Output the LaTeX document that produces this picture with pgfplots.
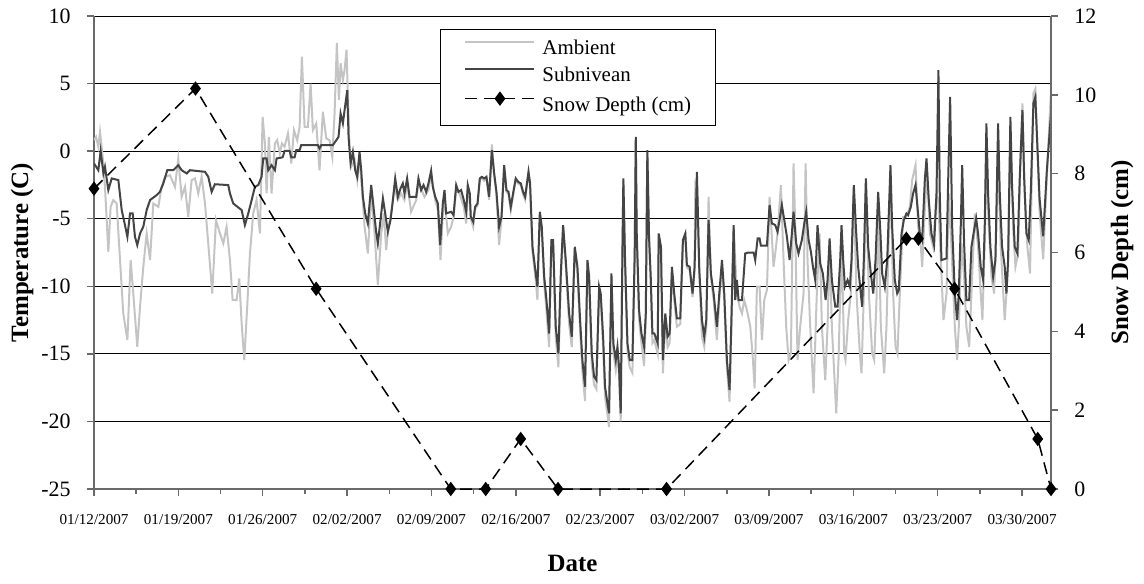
\documentclass[border=0pt]{standalone}
\usepackage{fontspec}
\setmainfont{Liberation Serif}
\usepackage{pgfplots}
\pgfplotsset{compat=1.18}
\definecolor{amb}{HTML}{C4C4C4}
\definecolor{sub}{HTML}{444444}
\definecolor{axgray}{HTML}{6A6A6A}
\pgfplotsset{
  common/.style={
    scale only axis, width=478.5bp, height=236.5bp,
    xmin=0, xmax=79.4,
    /pgf/number format/assume math mode=true,
    axis line style={axgray, line width=1bp},
    tick style={axgray, line width=0.75bp},
    major tick length=3.5bp, minor tick length=2.5bp,
    tick align=outside,
    yticklabel style={font=\fontsize{11}{12}\selectfont, inner sep=0pt},
    label style={font=\fontsize{12.5}{14}\selectfont\bfseries},
  }
}
\begin{document}
\begin{tikzpicture}
\begin{axis}[common,
  ymin=-25, ymax=10,
  axis x line*=bottom, axis y line*=left,
  ytick={-25,-20,...,10},
  ymajorgrids, major grid style={black, line width=0.5bp},
  xtick={0,7,...,77},
  xticklabels={01/12/2007,01/19/2007,01/26/2007,02/02/2007,02/09/2007,02/16/2007,02/23/2007,03/02/2007,03/09/2007,03/16/2007,03/23/2007,03/30/2007},
  minor xtick={3.5,10.5,...,77},
  xticklabel style={font=\fontsize{7.6}{8}\selectfont, anchor=north, inner sep=0pt, yshift=-9bp},
  yticklabel style={anchor=east, xshift=-8bp},
  xlabel={Date}, ylabel={Temperature (C)},
  xlabel style={at={(axis description cs:0.5,-0.1564)}, anchor=center},
  ylabel style={at={(axis description cs:-0.0752,0.5)}, anchor=center},
]
\addplot[amb, line width=1bp] coordinates {
(0.00,0.81) (0.17,1.06) (0.36,0.32) (0.50,1.43) (0.72,-0.42) (0.91,-2.64) (1.19,-7.45) (1.38,-4.12) (1.60,-3.62) (1.88,-3.87)
(2.16,-8.06) (2.43,-12.01) (2.77,-13.98) (3.04,-8.06) (3.26,-10.53) (3.59,-14.47) (3.82,-11.51) (4.09,-8.56) (4.37,-6.09) (4.65,-8.06)
(4.92,-3.87) (5.34,-4.12) (5.61,-2.64) (5.89,-1.90) (6.30,-1.78) (6.72,-2.64) (6.99,-0.54) (7.27,-3.38) (7.55,-2.64) (7.82,-4.86)
(8.10,-2.14) (8.38,-2.02) (8.65,-3.13) (8.93,-1.90) (9.21,-3.87) (9.48,-6.83) (9.81,-10.53) (10.12,-5.10) (10.45,-6.09) (10.73,-6.83)
(11.00,-5.60) (11.28,-8.06) (11.50,-11.02) (11.83,-11.02) (12.05,-9.42) (12.25,-12.75) (12.47,-15.46) (12.71,-11.51) (12.94,-7.57) (13.21,-4.61)
(13.49,-3.62) (13.77,-6.09) (13.99,2.54) (14.18,0.57) (14.32,-3.13) (14.51,1.06) (14.73,-3.13) (15.01,0.57) (15.20,0.81) (15.42,-0.17)
(15.59,0.57) (15.81,0.32) (16.09,1.31) (16.37,-0.91) (16.59,1.55) (16.86,0.81) (17.06,1.80) (17.25,7.0) (17.47,1.80) (17.75,1.80)
(17.97,5.0) (18.16,1.55) (18.44,2.05) (18.71,-1.41) (18.99,2.91) (19.27,0.94) (19.54,0.81) (19.77,-0.42) (19.96,2.79) (20.15,8.0)
(20.32,3.77) (20.46,6.5) (20.65,5.25) (20.79,6.0) (20.95,7.5) (21.06,4.27) (21.20,0.32) (21.34,-1.16) (21.62,-0.67) (21.84,-2.14)
(22.03,-0.42) (22.22,-2.64) (22.45,-5.60) (22.72,-7.57) (23.00,-3.13) (23.28,-6.09) (23.55,-9.91) (23.83,-6.09) (24.05,-4.61) (24.24,-7.32)
(24.44,-5.60) (24.66,-4.61) (24.93,-2.64) (25.21,-3.62) (25.48,-3.13) (25.76,-3.62) (25.98,-2.39) (26.31,-4.49) (26.73,-3.62) (26.92,-2.39)
(27.42,-3.38) (27.75,-2.88) (27.97,-1.65) (28.31,-3.62) (28.53,-4.36) (28.75,-8.06) (28.94,-4.61) (29.08,-3.62) (29.36,-6.09) (29.63,-5.60)
(29.83,-4.86) (30.05,-2.88) (30.32,-3.13) (30.68,-4.12) (30.88,-5.35) (31.01,-2.88) (31.18,-3.62)
(31.26,-5.0) (31.46,-5.6) (31.62,-4.3) (31.82,-4.0) (32.01,-2.1) (32.18,-2.0) (32.37,-2.2) (32.56,-2.0) (32.78,-3.6) (33.01,0.5)
(33.20,-1.7) (33.39,-3.2) (33.61,-6.95) (33.81,-5.0) (34.03,-1.2) (34.22,-3.0) (34.39,-3.2) (34.58,-4.4) (34.77,-3.3) (34.99,-2.1)
(35.19,-2.4) (35.41,-2.5) (35.60,-3.2) (35.77,-3.6) (36.05,-1.6) (36.18,-2.5) (36.38,-7.4) (36.65,-9.6) (36.79,-11.0) (36.99,-4.6)
(37.15,-5.9) (37.35,-9.8) (37.54,-11.8) (37.76,-14.5) (37.95,-6.8) (38.09,-6.9) (38.31,-13.8) (38.53,-16.0) (38.73,-9.6) (38.92,-5.6)
(39.14,-8.5) (39.42,-12.8) (39.64,-14.5) (39.89,-7.3) (40.11,-9.0) (40.33,-13.3) (40.52,-16.3) (40.74,-18.5) (40.94,-8.3) (41.08,-9.8)
(41.30,-15.8) (41.49,-17.3) (41.68,-17.6) (41.91,-10.4) (42.04,-11.0) (42.24,-14.5) (42.40,-18.2) (42.60,-19.5) (42.73,-20.4) (42.93,-9.3)
(43.09,-14.9) (43.29,-16.2) (43.43,-15.0) (43.56,-16.6) (43.70,-20.0) (43.84,-7.8) (43.92,-2.2) (44.06,-8.4) (44.26,-14.8) (44.45,-16.0)
(44.67,-16.4) (44.86,-7.8) (44.95,0.9) (45.03,-6.4) (45.22,-12.4) (45.42,-14.2) (45.64,-15.9) (45.78,-12.5) (45.91,-0.1) (46.05,-6.6)
(46.19,-9.8) (46.33,-14.2) (46.49,-14.0) (46.77,-15.0)
(46.85,-7.08) (47.04,-7.5) (47.20,-16.44) (47.40,-12.5) (47.59,-14.5) (47.76,-14.2) (47.95,-9.05) (48.14,-11.0) (48.36,-12.99) (48.64,-12.8)
(48.86,-6.8) (49.06,-6.3) (49.19,-8.6) (49.42,-8.8) (49.66,-10.8) (49.83,-8.8) (49.89,-2.39) (50.02,-2.64) (50.22,-9.0) (50.44,-13.73)
(50.63,-14.47) (50.80,-13.0) (50.99,-3.38) (51.18,-9.3) (51.41,-11.0) (51.68,-13.98) (51.88,-11.0) (52.10,-8.5) (52.29,-11.0) (52.51,-16.0)
(52.73,-18.54) (52.87,-13.5) (53.07,-5.60) (53.34,-10.53) (53.56,-11.51) (53.76,-12.01) (53.95,-11.02) (54.17,-11.76) (54.45,-12.99) (54.67,-15.46)
(54.81,-17.55) (55.00,-10.03) (55.22,-10.03) (55.42,-13.98) (55.61,-11.02) (55.83,-10.28) (56.05,-3.38) (56.24,-6.34) (56.38,-8.56) (56.52,-7.57)
(56.71,-6.09) (56.99,-2.51) (57.21,-8.06) (57.43,-12.99) (57.63,-15.46) (57.82,-14.97) (58.04,-0.91) (58.18,-5.60) (58.37,-15.46) (58.59,-12.99)
(58.87,-10.53) (59.04,-0.91) (59.20,-8.06) (59.42,-12.99) (59.70,-17.92) (59.97,-10.53) (60.20,-6.09) (60.39,-12.99) (60.67,-16.94) (60.86,-12.99)
(61.03,-7.08) (61.22,-12.99) (61.58,-19.40) (61.77,-15.46) (61.96,-9.05)
(62.02,-6.58) (62.24,-14.97) (62.35,-15.46) (62.57,-12.50) (62.79,-10.53) (63.04,-2.88) (63.26,-10.53) (63.54,-14.97) (63.68,-16.44) (63.87,-10.53)
(64.04,-2.39) (64.29,-10.53) (64.56,-14.97) (64.73,-15.46) (64.92,-11.02) (65.06,-3.62) (65.28,-12.99) (65.56,-16.44) (65.75,-12.99) (66.08,-1.41)
(66.30,-10.53) (66.50,-14.47) (66.66,-14.97) (66.86,-10.53) (67.13,-4.86) (67.41,-4.86) (67.69,-4.12) (67.88,-2.14) (68.16,-1.04) (68.38,-5.60)
(68.60,-7.08) (68.71,-8.56) (68.93,-4.36) (69.12,-1.41) (69.35,-6.09) (69.62,-7.08) (69.90,-3.13) (70.04,-3.62) (70.26,-8.06) (70.48,-12.50)
(70.73,-10.53) (70.92,-3.13) (71.14,-7.08) (71.42,-12.99) (71.61,-15.46) (71.75,-12.99) (71.97,-6.83) (72.19,-9.29) (72.38,-12.99) (72.61,-14.47)
(72.80,-10.53) (73.08,-4.61) (73.35,-7.08) (73.57,-10.53) (73.71,-12.50) (73.90,-6.83) (74.04,-0.67) (74.24,-5.60) (74.46,-9.29) (74.68,-10.53)
(74.87,-5.60) (75.01,-0.42) (75.23,-7.08) (75.56,-12.50) (75.84,-8.56) (76.03,1.80) (76.25,-5.60) (76.45,-8.56) (76.67,-7.57) (76.86,-0.67)
(77.03,3.53) (77.22,-3.13) (77.44,-7.08) (77.66,-9.05) (77.83,-0.67) (77.94,4.27) (78.10,4.6) (78.45,-4.5) (78.75,-8.0) (79.05,-2.0) (79.40,4.5)
};
\addplot[sub, line width=1bp] coordinates {
(0.00,-0.91) (0.36,-1.41) (0.55,0.02) (0.78,-1.65) (0.91,-1.16) (1.19,-2.88) (1.47,-2.02) (2.02,-2.14) (2.30,-4.36) (2.57,-5.47)
(2.77,-6.34) (2.99,-4.61) (3.21,-4.61) (3.40,-6.34) (3.59,-6.95) (3.82,-6.09) (4.09,-5.60) (4.37,-4.36) (4.65,-3.62) (5.20,-3.25)
(5.47,-3.01) (5.75,-2.39) (6.08,-1.41) (6.58,-1.41) (6.99,-1.04) (7.27,-1.41) (7.69,-1.65) (7.96,-1.41) (9.21,-1.53) (9.48,-1.90)
(9.76,-3.01) (10.03,-2.45) (11.14,-2.51) (11.28,-3.13) (11.55,-3.87) (12.25,-4.36) (12.52,-5.47) (12.80,-4.61) (13.08,-3.62) (13.35,-2.64)
(13.63,-2.51) (13.90,-1.90) (14.04,-0.54) (14.32,-0.54) (14.46,-1.41) (14.73,-1.04) (15.01,-1.41) (15.15,-0.54) (15.59,-0.47)
(15.67,-0.42) (15.81,0.02) (16.23,0.02) (16.37,-0.47) (16.64,-0.47) (16.78,0.07) (17.06,0.07) (17.19,0.44) (18.58,0.44) (18.71,0.20)
(18.85,0.44) (19.82,0.44) (20.10,0.81) (20.29,1.06) (20.46,2.79) (20.65,2.05) (20.79,3.03) (21.01,4.51) (21.12,1.06) (21.29,-0.91)
(21.48,-0.05) (21.67,-1.41) (21.84,-1.90) (22.03,-0.05) (22.17,-1.41) (22.31,-3.38) (22.50,-4.61) (22.72,-5.35) (23.00,-2.51) (23.19,-4.12)
(23.41,-5.97) (23.55,-6.83) (23.77,-5.10) (23.97,-3.50) (24.16,-4.61) (24.38,-5.97) (24.60,-5.10) (24.80,-3.62) (24.99,-2.02) (25.21,-3.38)
(25.43,-2.76) (25.62,-2.39) (25.76,-3.13) (25.98,-2.02) (26.18,-3.38) (26.73,-3.38) (26.92,-2.02) (27.14,-2.88) (27.34,-2.51) (27.56,-3.01)
(27.75,-2.39) (27.97,-1.45) (28.11,-2.64) (28.31,-3.38) (28.53,-3.87) (28.72,-6.95) (28.94,-3.87) (29.08,-2.88) (29.22,-4.61) (29.63,-4.49)
(29.83,-4.73) (30.05,-2.51) (30.24,-3.01) (30.46,-2.88) (30.68,-3.62) (30.88,-4.49) (31.01,-2.51) (31.18,-3.13)
(31.26,-4.86) (31.46,-5.23) (31.62,-4.12) (31.82,-3.87) (32.01,-2.02) (32.18,-1.90) (32.37,-2.02) (32.56,-1.90) (32.78,-3.38) (33.01,0.07)
(33.20,-1.65) (33.39,-3.01) (33.61,-5.60) (33.81,-4.86) (34.03,-1.04) (34.22,-2.88) (34.39,-3.01) (34.58,-4.12) (34.77,-3.13) (34.99,-2.02)
(35.19,-2.27) (35.41,-2.39) (35.60,-3.01) (35.77,-3.38) (36.05,-1.53) (36.18,-2.39) (36.38,-7.08) (36.65,-9.05) (36.79,-10.03) (36.99,-4.49)
(37.15,-5.60) (37.35,-9.29) (37.54,-11.02) (37.76,-13.49) (37.95,-6.58) (38.09,-6.58) (38.31,-12.99) (38.53,-14.97) (38.73,-9.05) (38.92,-5.47)
(39.14,-8.06) (39.42,-12.01) (39.64,-13.73) (39.89,-7.08) (40.11,-8.56) (40.33,-12.50) (40.52,-15.46) (40.74,-17.43) (40.94,-8.06) (41.08,-9.29)
(41.30,-14.97) (41.49,-16.69) (41.68,-16.94) (41.91,-10.03) (42.04,-10.53) (42.24,-13.73) (42.40,-17.43) (42.60,-18.66) (42.73,-19.40) (42.93,-9.05)
(43.09,-14.23) (43.29,-15.46) (43.43,-14.47) (43.56,-15.95) (43.70,-19.40) (43.84,-7.57) (43.92,-2.02) (44.06,-8.06) (44.26,-14.23) (44.45,-15.46)
(44.67,-15.46) (44.86,-7.57) (44.95,1.06) (45.03,-6.09) (45.22,-11.76) (45.42,-13.49) (45.64,-14.47) (45.78,-12.01) (45.91,0.07) (46.05,-6.34)
(46.19,-9.29) (46.33,-13.49) (46.49,-13.49) (46.77,-14.23)
(46.85,-6.09) (47.04,-7.08) (47.20,-15.46) (47.40,-12.01) (47.59,-13.73) (47.76,-13.49) (47.95,-8.56) (48.14,-10.53) (48.36,-12.38) (48.64,-12.38)
(48.86,-6.58) (49.06,-6.09) (49.19,-8.43) (49.42,-8.56) (49.66,-10.53) (49.83,-8.56) (50.02,-1.53) (50.22,-8.80) (50.44,-12.50) (50.63,-13.73)
(50.80,-12.50) (50.99,-5.10) (51.18,-9.05) (51.41,-10.53) (51.68,-12.99) (51.88,-10.53) (52.10,-8.06) (52.29,-10.53) (52.51,-15.46) (52.73,-17.68)
(52.87,-12.99) (53.07,-5.47) (53.20,-11.02) (53.34,-9.54) (53.48,-11.02) (53.76,-11.02) (54.03,-7.57) (54.31,-7.50) (54.73,-7.50) (54.86,-8.06)
(55.06,-6.46) (55.22,-6.46) (55.33,-7.00) (55.83,-7.00) (56.05,-3.99) (56.24,-5.35) (56.52,-5.47) (56.71,-5.97) (56.88,-5.10) (57.07,-3.99)
(57.27,-5.10) (57.49,-6.34) (57.71,-8.06) (57.90,-6.09) (58.04,-4.49) (58.26,-6.83) (58.45,-7.57) (58.73,-6.58) (58.93,-5.35) (59.09,-4.49)
(59.29,-6.58) (59.48,-7.45) (59.65,-8.56) (59.84,-9.54) (60.03,-5.47) (60.25,-8.31) (60.47,-9.05) (60.70,-11.02) (60.86,-9.54) (61.03,-6.46)
(61.22,-9.54) (61.50,-11.51) (61.69,-11.51) (61.91,-8.06)
(62.02,-5.47) (62.16,-8.06) (62.30,-10.03) (62.52,-9.54) (62.71,-10.03) (62.85,-8.06) (63.04,-2.51) (63.21,-5.60) (63.40,-8.56) (63.62,-10.53)
(63.73,-11.51) (63.87,-8.06) (64.04,-2.02) (64.23,-7.08) (64.45,-9.05) (64.65,-10.53) (64.84,-8.06) (65.06,-3.01) (65.25,-6.09) (65.39,-9.05)
(65.61,-10.03) (65.81,-8.06) (66.08,-1.04) (66.22,-5.60) (66.44,-9.54) (66.64,-10.53) (66.77,-10.28) (67.00,-6.09) (67.19,-5.10) (67.41,-4.61)
(67.55,-4.73) (67.77,-4.12) (67.96,-3.13) (68.16,-2.51) (68.32,-4.12) (68.52,-6.09) (68.71,-6.58) (68.93,-2.14) (69.07,-0.54) (69.26,-3.62)
(69.48,-6.09) (69.70,-6.95) (69.90,-3.13) (70.06,5.99) (70.17,-3.13) (70.31,-8.06) (70.73,-7.94) (70.86,-2.51) (71.03,4.02) (71.20,-5.60)
(71.42,-10.53) (71.61,-12.50) (71.75,-10.53) (71.91,-5.60) (72.03,-1.04) (72.19,-6.83) (72.38,-11.02) (72.61,-11.02) (72.80,-7.08) (73.02,-5.84)
(73.19,-4.98) (73.35,-6.09) (73.57,-8.56) (73.77,-9.54) (73.90,-5.60) (74.04,2.05) (74.18,-3.13) (74.37,-7.08) (74.60,-9.29) (74.79,-8.06)
(75.01,2.05) (75.15,-3.13) (75.34,-7.08) (75.56,-8.56) (75.70,-10.53) (75.84,-8.06) (76.03,2.54) (76.17,-2.64) (76.39,-7.08) (76.61,-7.57)
(76.81,-1.90) (77.03,3.03) (77.17,-1.90) (77.36,-6.09) (77.55,-6.58) (77.72,-3.13) (77.94,3.53) (78.10,4.0) (78.45,-3.5) (78.75,-6.3)
(79.05,-1.5) (79.40,2.8)
};
\end{axis}
\begin{axis}[common,
  ymin=0, ymax=12,
  axis x line=none, axis y line*=right,
  ytick={0,2,...,12},
  yticklabel style={anchor=west, xshift=8bp},
  ylabel={Snow Depth (cm)},
  ylabel style={at={(axis description cs:1.0742,0.5)}, anchor=center, rotate=0},
  clip=false,
  legend style={at={(rel axis cs:0.3616,0.972)}, anchor=north west, draw=black,
    font=\fontsize{10.5}{12}\selectfont, inner xsep=12bp, inner ysep=4.5bp,
    row sep=3bp, column sep=3.5bp,
    nodes={inner sep=0pt, text height=8bp, text depth=2.5bp}},
  legend cell align=left,
  legend image code/.code={\draw[mark repeat=2, mark phase=2, #1] plot coordinates {(0bp,3.5bp) (17.25bp,3.5bp) (34.5bp,3.5bp)};},
]
\addlegendimage{amb, line width=1bp}
\addlegendentry{Ambient}
\addlegendimage{sub, line width=1bp}
\addlegendentry{Subnivean}
\addplot[black, line width=0.75bp, dash pattern=on 6bp off 3.5bp, mark=diamond*, mark size=3bp, mark options={solid}] coordinates {
(0,7.62) (8.42,10.16) (18.43,5.08) (29.6,0) (32.5,0) (35.4,1.27) (38.5,0) (47.5,0) (67.4,6.35) (68.4,6.35) (71.4,5.08) (78.3,1.27) (79.4,0)
};
\addlegendentry{Snow Depth (cm)}
\end{axis}
\pgfresetboundingbox
\path (-47bp,-47.5bp) rectangle (525bp,244.5bp);
\end{tikzpicture}
\end{document}
